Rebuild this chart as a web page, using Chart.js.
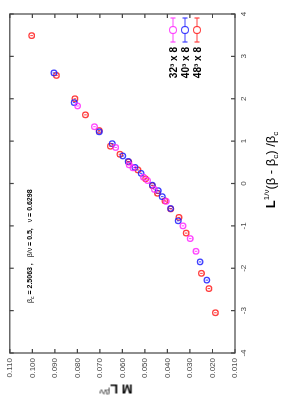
<!DOCTYPE html>
<html>
<head>
<meta charset="utf-8">
<script src="https://cdn.jsdelivr.net/npm/chart.js@4/dist/chart.umd.min.js"></script>
<style>
  html, body { margin: 0; padding: 0; background: #fff; overflow: hidden; }
  body { width: 283px; height: 403px; position: relative; font-family: "Liberation Sans", Arial, sans-serif; }
  /* the chart is drawn upright at 403x283, then turned a quarter left */
  #wrap { position: absolute; left: 0; top: 0; width: 403px; height: 283px;
          transform-origin: 0 0; transform: translateY(403px) rotate(-90deg); }
  #c { position: absolute; left: 0; top: 0; }
  .lbl { position: absolute; white-space: nowrap; color: #000; }
  #xtitle { left: 233px; top: 270px; transform: translate(-50%, -50%); font-size: 13px; }
  #ytitle { left: 14px; top: 116px; transform: translate(-50%, -50%) rotate(-90deg); font-size: 13px; }
  #note { left: 100px; top: 26px; font-size: 7px; }
  #note b { font-weight: bold; }
  sup, sub { font-size: 8px; line-height: 0; }
</style>
</head>
<body>
<div id="wrap">
  <canvas id="c" width="403" height="283"></canvas>
  <div id="xtitle" class="lbl"><b>L</b><sup>1/&nu;</sup>(&beta; - &beta;<sub>c</sub>) /&beta;<sub>c</sub></div>
  <div id="ytitle" class="lbl"><b>M L</b><sup>&beta;/&nu;</sup></div>
  <div id="note" class="lbl">&beta;<sub style="font-size:5px">c</sub> <b>= 2.5063 ,</b> &nbsp; &beta;/&nu; <b>= 0.5,</b> &nbsp; &nu; <b>= 0.6298</b></div>
</div>
<script>
// x: L^{1/nu}(beta - beta_c)/beta_c , y: M L^{beta/nu}
const xTicks = [-4, -3, -2, -1, 0, 1, 2, 3, 4];
const yTicks = [0.010, 0.020, 0.030, 0.040, 0.050, 0.060, 0.070, 0.080, 0.090, 0.100, 0.110];

const labels = ['32\u00b3 x 8', '40\u00b3 x 8', '48\u00b3 x 8'];
const colors = ['rgba(255,40,255,0.85)', 'rgba(30,30,255,0.85)', 'rgba(255,30,30,0.85)'];

// 32^3 x 8
const x32 = [1.83, 1.34, 0.85, 0.44, 0.37, 0.15, 0.07, -0.14, -0.42, -1.00, -1.30, -1.60];
const m32 = [0.0799, 0.0724, 0.0630, 0.0570, 0.0553, 0.0506, 0.0488, 0.0458, 0.0405, 0.0331, 0.0299, 0.0273];
// 40^3 x 8
const x40 = [2.61, 1.91, 1.22, 0.94, 0.65, 0.52, 0.38, 0.24, -0.04, -0.17, -0.31, -0.59, -0.88, -1.85, -2.28];
const m40 = [0.0904, 0.0814, 0.0703, 0.0645, 0.0598, 0.0574, 0.0544, 0.0517, 0.0467, 0.0441, 0.0423, 0.0386, 0.0352, 0.0255, 0.0225];
// 48^3 x 8
const x48 = [3.49, 2.55, 2.00, 1.62, 1.25, 0.88, 0.69, 0.51, 0.32, 0.11, -0.05, -0.23, -0.41, -0.60, -0.80, -1.17, -2.12, -2.48, -3.05];
const m48 = [0.1003, 0.0893, 0.0811, 0.0764, 0.0703, 0.0653, 0.0611, 0.0572, 0.0531, 0.0497, 0.0467, 0.0444, 0.0411, 0.0385, 0.0349, 0.0317, 0.0249, 0.0216, 0.0187];

function pts(xs, ys) {
    let out = [];
    for (let i = 0; i < xs.length; i++) out.push({ x: xs[i], y: ys[i] });
    return out;
}

const series = [pts(x32, m32), pts(x40, m40), pts(x48, m48)];

// frame, inward ticks on all four sides, tiny error bars, legend
const gnuFrame = {
    id: 'gnuFrame',
    afterDatasetsDraw(chart) {
        const ctx = chart.ctx;
        const a = chart.chartArea;
        const sx = chart.scales.x, sy = chart.scales.y;
        ctx.save();

        // small error bars inside the circles
        chart.data.datasets.forEach(function(ds, i) {
            ctx.strokeStyle = colors[i];
            ctx.lineWidth = 1;
            chart.getDatasetMeta(i).data.forEach(function(p) {
                ctx.beginPath();
                ctx.moveTo(p.x, p.y - 1.3);
                ctx.lineTo(p.x, p.y + 1.3);
                ctx.stroke();
            });
        });

        ctx.strokeStyle = '#444';
        ctx.lineWidth = 1.2;
        ctx.strokeRect(a.left, a.top, a.right - a.left, a.bottom - a.top);

        const tl = 4;
        ctx.beginPath();
        xTicks.forEach(function(v) {
            const px = sx.getPixelForValue(v);
            ctx.moveTo(px, a.bottom); ctx.lineTo(px, a.bottom - tl);
            ctx.moveTo(px, a.top);    ctx.lineTo(px, a.top + tl);
        });
        yTicks.forEach(function(v) {
            const py = sy.getPixelForValue(v);
            ctx.moveTo(a.left, py);  ctx.lineTo(a.left + tl, py);
            ctx.moveTo(a.right, py); ctx.lineTo(a.right - tl, py);
        });
        ctx.stroke();

        // legend, bottom right of the plot
        const cx = a.right - 16;
        ctx.font = 'bold 10px "Liberation Sans", Arial, sans-serif';
        ctx.textAlign = 'right';
        ctx.textBaseline = 'middle';
        for (let i = 0; i < labels.length; i++) {
            const cy = a.bottom - 62 + i * 12;
            ctx.strokeStyle = colors[i];
            ctx.lineWidth = 1.2;
            ctx.beginPath();
            ctx.moveTo(cx - 12, cy); ctx.lineTo(cx - 3.5, cy);
            ctx.moveTo(cx + 3.5, cy); ctx.lineTo(cx + 12, cy);
            ctx.moveTo(cx - 12, cy - 2.5); ctx.lineTo(cx - 12, cy + 2.5);
            ctx.moveTo(cx + 12, cy - 2.5); ctx.lineTo(cx + 12, cy + 2.5);
            ctx.stroke();
            ctx.beginPath();
            ctx.arc(cx, cy, 3.5, 0, Math.PI * 2);
            ctx.stroke();
            ctx.fillStyle = '#000';
            ctx.fillText(labels[i], cx - 17, cy + 1);
        }
        ctx.restore();
    }
};

const tickFont = { family: '"Liberation Sans", Arial, sans-serif', size: 8 };

new Chart(document.getElementById('c'), {
    type: 'scatter',
    data: {
        datasets: series.map(function(d, i) {
            return {
                label: labels[i], data: d,
                borderColor: colors[i], backgroundColor: 'rgba(0,0,0,0)',
                pointRadius: 2.8, pointBorderWidth: 1.3, pointHoverRadius: 2.8
            };
        })
    },
    options: {
        responsive: false,
        animation: false,
        devicePixelRatio: 1,
        layout: { padding: { top: 9, right: 14, left: 0, bottom: 0 } },
        plugins: { legend: { display: false }, tooltip: { enabled: false } },
        events: [],
        scales: {
            x: {
                type: 'linear', min: -4, max: 4,
                grid: { display: false, drawTicks: false },
                border: { display: false },
                ticks: { stepSize: 1, font: tickFont, color: '#444', padding: 4, maxRotation: 0 },
                afterFit: function(s) { s.height = 48; }
            },
            y: {
                type: 'linear', min: 0.01, max: 0.11,
                grid: { display: false, drawTicks: false },
                border: { display: false },
                ticks: {
                    stepSize: 0.01, font: tickFont, color: '#444', padding: 5,
                    callback: function(v) { return v.toFixed(3); }
                },
                afterFit: function(s) { s.width = 50; }
            }
        }
    },
    plugins: [gnuFrame]
});
</script>
</body>
</html>
